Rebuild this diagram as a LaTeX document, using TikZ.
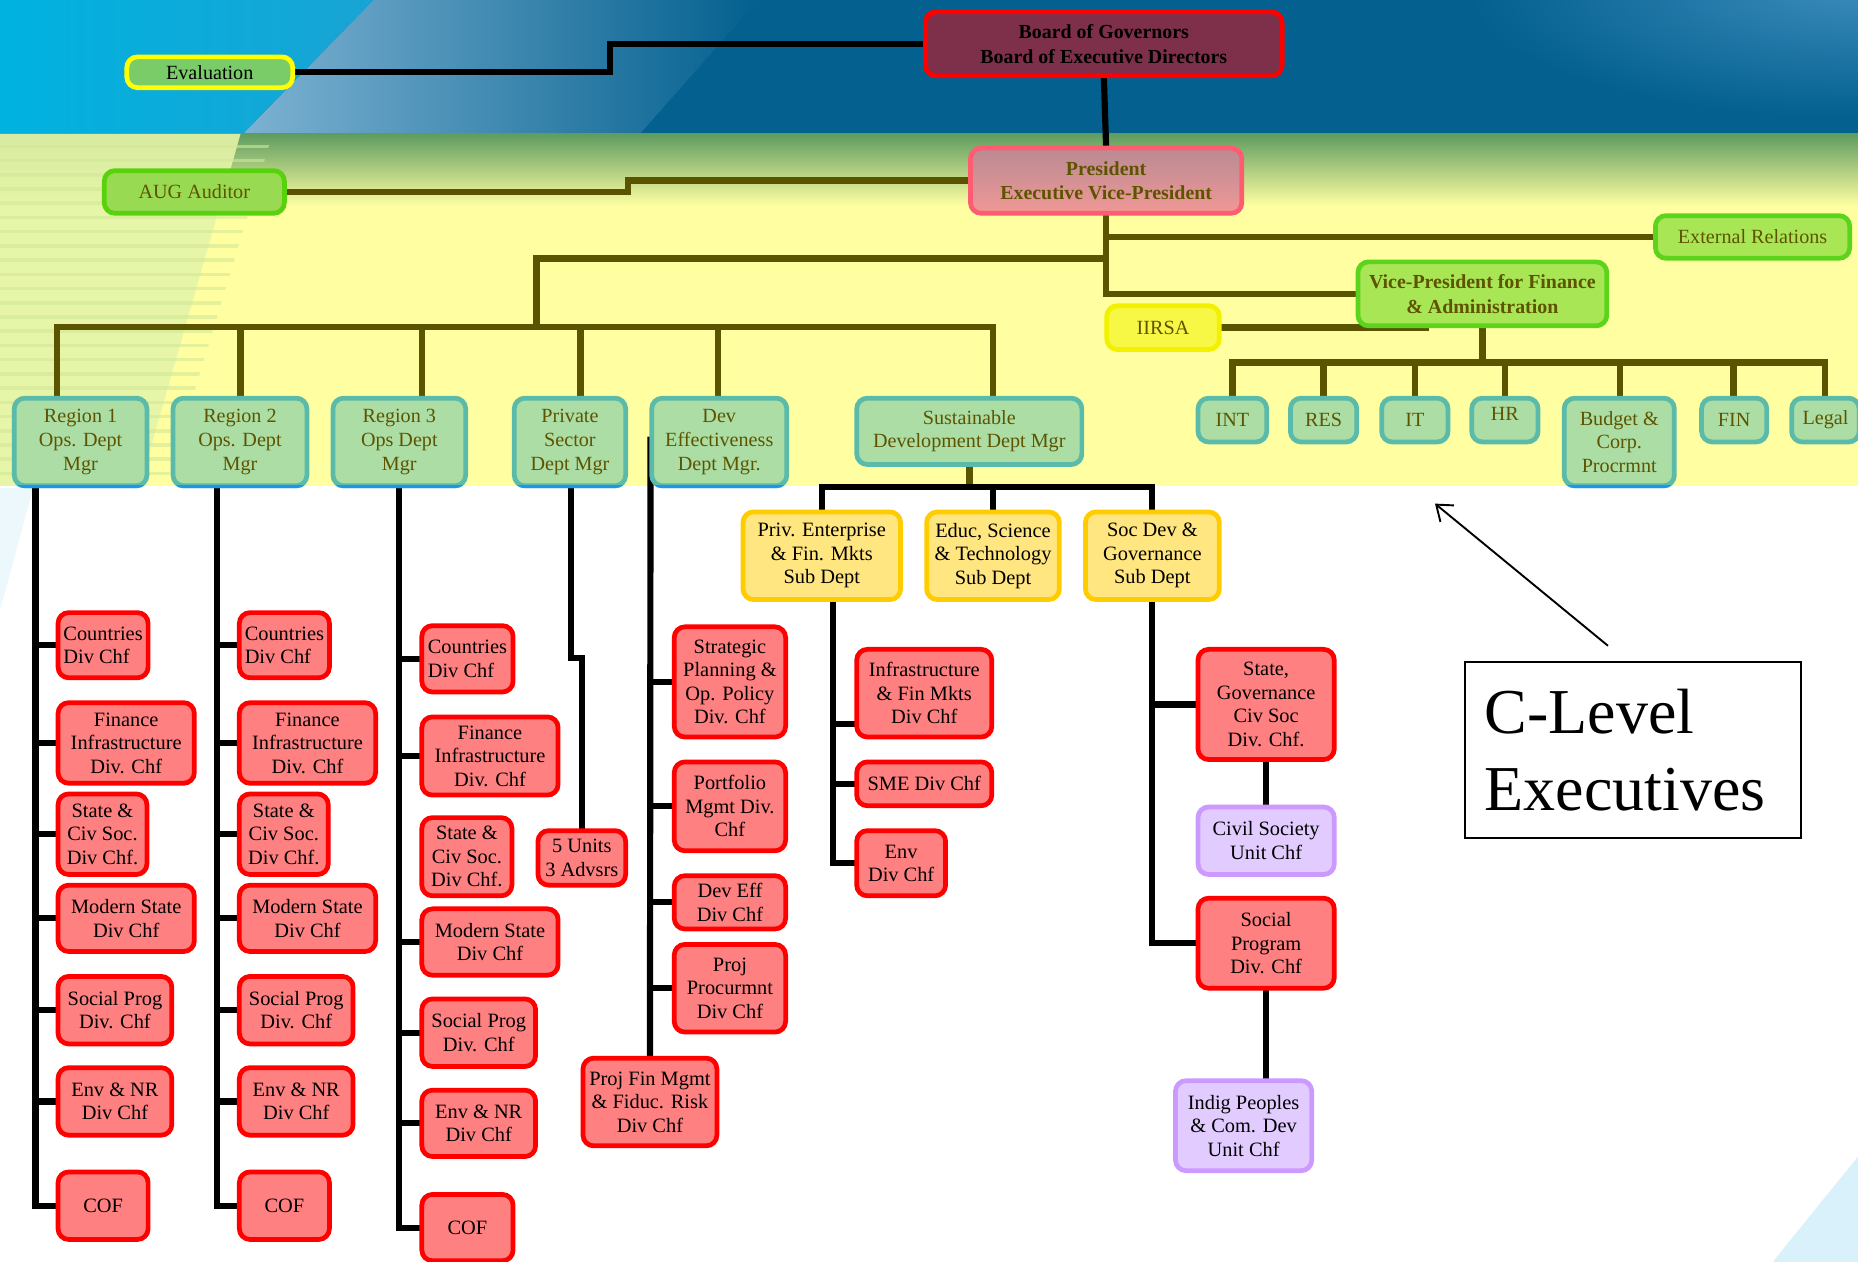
\documentclass[tikz,border=0pt]{standalone}
\usepackage{fontspec}
\setmainfont{Liberation Serif}
\usetikzlibrary{arrows.meta}
\pgfdeclarelayer{bg}
\pgfdeclarelayer{lines}
\pgfsetlayers{bg,lines,main}

\definecolor{lnol}{HTML}{5A5300}
\definecolor{txol}{HTML}{5E5400}
\definecolor{redf}{HTML}{FF8080}
\definecolor{redb}{HTML}{FF0000}
\definecolor{yelf}{HTML}{FFE680}
\definecolor{yelb}{HTML}{FFCC00}
\definecolor{purf}{HTML}{E2CCFF}
\definecolor{purb}{HTML}{CC99FF}
\definecolor{teaf}{HTML}{ABDDA4}
\definecolor{teab}{HTML}{5BBBAA}
\definecolor{blueedge}{HTML}{1E96F0}
\definecolor{boardf}{HTML}{7E2F4A}
\definecolor{evalf}{HTML}{7ACC68}
\definecolor{evalb}{HTML}{FFFF00}
\definecolor{augf}{HTML}{98DA52}
\definecolor{augb}{HTML}{58D20C}
\definecolor{extf}{HTML}{A8E655}
\definecolor{extb}{HTML}{5CD41C}
\definecolor{iirf}{HTML}{F7F745}
\definecolor{iirb}{HTML}{F2F200}
\definecolor{presb}{HTML}{FF5C72}
\definecolor{presT}{HTML}{BA8A93}
\definecolor{presB}{HTML}{F09896}
\definecolor{topdark}{HTML}{03608F}
\definecolor{cyanL}{HTML}{00B2E0}
\definecolor{cyanR}{HTML}{18A4D4}
\definecolor{streakc}{HTML}{7DB2D2}
\definecolor{toplight}{HTML}{3A8BBB}
\definecolor{yelbg}{HTML}{FFFFA2}
\definecolor{grnbg}{HTML}{5F9C60}
\definecolor{palebg}{HTML}{E4F4A8}
\definecolor{pstreak}{HTML}{D2E996}
\definecolor{lblue}{HTML}{D8F1FB}

\tikzset{
  base/.style={rounded corners=4.5pt, line width=2pt, inner sep=0pt, outer sep=0pt, align=center},
  up/.style={base, font=\fontsize{8.5}{10}\selectfont, text=txol},
  upb/.style={base, font=\fontsize{8.4}{10.5}\selectfont\bfseries, text=txol},
  tealbox/.style={up, draw=teab, fill=teaf},
  lo/.style={base, font=\fontsize{8.6}{9.9}\selectfont, text=black},
  redbox/.style={lo, draw=redb, fill=redf},
  subbox/.style={lo, draw=yelb, fill=yelf},
  purbox/.style={lo, draw=purb, fill=purf},
  blk/.style={line width=2.6pt, draw=black, line cap=rect},
  olv/.style={line width=2.8pt, draw=lnol, line cap=rect},
}

% #1 style, #2 name, #3 x1, #4 y1, #5 x2, #6 y2, #7 text
\newcommand{\obox}[7]{%
  \pgfmathsetmacro\oboxw{(#5-#3)*0.5-2}%
  \pgfmathsetmacro\oboxh{(#6-#4)*0.5-2}%
  \node[#1, minimum width=\oboxw pt, minimum height=\oboxh pt] (#2) at ({(#3+#5)/2},{(#4+#6)/2}) {#7};}

\begin{document}
\begin{tikzpicture}[x=0.5pt,y=-0.5pt]
\useasboundingbox (0,0) rectangle (1568,1065);

% ---------------- background ----------------
\begin{pgfonlayer}{bg}
\fill[white] (0,0) rectangle (1568,1065);
% top blue band
\fill[topdark] (0,0) rectangle (1568,113);
\begin{scope}
  \clip (0,0) rectangle (1568,113);
  \shade[inner color=toplight, outer color=topdark] (1568,-10) ellipse (330 and 110);
\end{scope}
\shade[left color=streakc, right color=topdark] (315,0) -- (640,0) -- (540,113) -- (205,113) -- cycle;
\shade[left color=cyanL, right color=cyanR] (0,0) -- (315,0) -- (205,113) -- (0,113) -- cycle;
% yellow band
\fill[yelbg] (0,113) rectangle (1568,410);
\shade[top color=grnbg, bottom color=yelbg] (0,113) rectangle (1568,174);
\fill[palebg, opacity=0.9] (0,113) -- (203,113) -- (118,410) -- (0,410) -- cycle;
\begin{scope}
  \clip (0,113) -- (230,113) -- (140,410) -- (0,410) -- cycle;
  \foreach \yy in {122,134,...,400} \fill[pstreak, opacity=0.6] (0,\yy) rectangle (260,\yy+3);
\end{scope}
% light blue corners
\fill[lblue, opacity=0.45] (0,412) -- (28,412) -- (0,515) -- cycle;
\fill[lblue] (1568,976) -- (1568,1065) -- (1496,1065) -- cycle;
\end{pgfonlayer}

% ---------------- upper nodes ----------------
\obox{upb, draw=redb, fill=boardf, text=black}{board}{779}{8}{1084}{66}{Board of Governors\\Board of Executive Directors}
\obox{up, draw=evalb, fill=evalf, text=black}{eval}{105}{46}{249}{76}{Evaluation}
\obox{upb, draw=presb, top color=presT, bottom color=presB}{pres}{817}{123}{1050}{182}{President\\Executive Vice-President}
\obox{up, draw=augb, fill=augf}{aug}{86}{142}{242}{182}{AUG Auditor}
\obox{up, draw=extb, fill=extf}{ext}{1395}{180}{1563}{220}{External Relations}
\obox{upb, draw=extb, fill=extf}{vpf}{1144}{219}{1358}{277}{Vice-President for Finance\\\& Administration}
\obox{up, draw=iirb, fill=iirf}{iirsa}{932}{256}{1031}{297}{IIRSA}

\obox{tealbox}{r1}{10}{334}{126}{412}{Region 1\\Ops. Dept\\Mgr}
\obox{tealbox}{r2}{144}{334}{261}{412}{Region 2\\Ops. Dept\\Mgr}
\obox{tealbox}{r3}{279}{334}{395}{412}{Region 3\\Ops Dept\\Mgr}
\obox{tealbox}{ps}{432}{334}{530}{412}{Private\\Sector\\Dept Mgr}
\obox{tealbox}{de}{548}{334}{666}{412}{Dev\\Effectiveness\\Dept Mgr.}
\obox{tealbox}{sd}{721}{334}{915}{394}{Sustainable\\Development Dept Mgr}
\obox{tealbox}{uint}{1009}{334}{1071}{375}{INT}
\obox{tealbox}{ures}{1087}{334}{1147}{375}{RES}
\obox{tealbox}{uit}{1164}{334}{1224}{375}{IT}
\obox{tealbox}{uhr}{1240}{334}{1300}{375}{\raisebox{2.5pt}[\height][\depth]{HR}}
\obox{tealbox}{bud}{1318}{334}{1415}{412}{Budget \&\\Corp.\\Procrmnt}
\obox{tealbox}{ufin}{1434}{334}{1493}{375}{FIN}
\obox{tealbox}{ulegal}{1510}{334}{1571}{375}{Legal}

% ---------------- region 1 ----------------
\obox{redbox,align=left}{ra1}{47}{515}{127}{574}{Countries\\Div Chf}
\obox{redbox}{rb1}{47}{591}{166}{663}{Finance\\Infrastructure\\Div. Chf}
\obox{redbox}{rc1}{47}{668}{126}{740}{State \&\\Civ Soc.\\Div Chf.}
\obox{redbox}{rd1}{47}{745}{166}{805}{Modern State\\Div Chf}
\obox{redbox}{re1}{47}{822}{147}{883}{Social Prog\\Div. Chf}
\obox{redbox}{rf1}{47}{899}{147}{960}{Env \& NR\\Div Chf}
\obox{redbox}{rg1}{47}{987}{127}{1048}{COF}
% ---------------- region 2 ----------------
\obox{redbox,align=left}{ra2}{200}{515}{280}{574}{Countries\\Div Chf}
\obox{redbox}{rb2}{200}{591}{319}{663}{Finance\\Infrastructure\\Div. Chf}
\obox{redbox}{rc2}{200}{668}{279}{740}{State \&\\Civ Soc.\\Div Chf.}
\obox{redbox}{rd2}{200}{745}{319}{805}{Modern State\\Div Chf}
\obox{redbox}{re2}{200}{822}{300}{883}{Social Prog\\Div. Chf}
\obox{redbox}{rf2}{200}{899}{300}{960}{Env \& NR\\Div Chf}
\obox{redbox}{rg2}{200}{987}{280}{1048}{COF}
% ---------------- region 3 ----------------
\obox{redbox,align=left}{ra3}{354}{526}{435}{586}{Countries\\Div Chf}
\obox{redbox}{rb3}{354}{603}{473}{673}{Finance\\Infrastructure\\Div. Chf}
\obox{redbox}{rc3}{354}{688}{434}{758}{State \&\\Civ Soc.\\Div Chf.}
\obox{redbox}{rd3}{354}{765}{473}{825}{Modern State\\Div Chf}
\obox{redbox}{re3}{354}{841}{454}{902}{Social Prog\\Div. Chf}
\obox{redbox}{rf3}{354}{918}{454}{978}{Env \& NR\\Div Chf}
\obox{redbox}{rg3}{354}{1006}{435}{1066}{COF}
% ---------------- private sector / dev eff ----------------
\obox{redbox}{fu}{452}{699}{530}{749}{5 Units\\3 Advsrs}
\obox{redbox}{sp}{567}{527}{665}{624}{Strategic\\Planning \&\\Op. Policy\\Div. Chf}
\obox{redbox}{pm}{567}{641}{665}{720}{Portfolio\\Mgmt Div.\\Chf}
\obox{redbox}{dv}{567}{737}{665}{786}{Dev Eff\\Div Chf}
\obox{redbox}{pp}{567}{795}{665}{873}{Proj\\Procurmnt\\Div Chf}
\obox{redbox}{pf}{490}{891}{607}{969}{Proj Fin Mgmt\\\& Fiduc. Risk\\Div Chf}
% ---------------- sustainable development ----------------
\obox{subbox}{pe}{625}{430}{762}{508}{Priv. Enterprise\\\& Fin. Mkts\\Sub Dept}
\obox{subbox}{ed}{780}{430}{896}{508}{Educ, Science\\\& Technology\\Sub Dept}
\obox{subbox}{sg}{914}{430}{1031}{508}{Soc Dev \&\\Governance\\Sub Dept}
\obox{redbox}{ifm}{721}{546}{839}{624}{Infrastructure\\\& Fin Mkts\\Div Chf}
\obox{redbox}{sme}{721}{641}{839}{682}{SME Div Chf}
\obox{redbox}{envc}{721}{699}{800}{758}{Env\\Div Chf}
\obox{redbox}{st}{1009}{546}{1128}{643}{State,\\Governance\\Civ Soc\\Div. Chf.}
\obox{purbox}{cs}{1009}{679}{1128}{740}{Civil Society\\Unit Chf}
\obox{redbox}{so}{1009}{756}{1128}{836}{Social\\Program\\Div. Chf}
\obox{purbox}{ip}{990}{910}{1109}{990}{Indig Peoples\\\& Com. Dev\\Unit Chf}

% ---------------- C-level label ----------------
\node[draw=black, line width=0.8pt, fill=white, minimum width=142pt, minimum height=74pt,
      text width=125pt, align=left, inner sep=0pt, outer sep=0pt,
      font=\fontsize{27}{32.5}\selectfont] (clevel) at (1378,633) {C-Level\\Executives};
\coordinate (atail) at (1357,545);
\coordinate (ahead) at (1211,425);
\draw[line width=0.8pt, -{Straight Barb[length=6pt,width=9pt]}] (atail) -- (ahead);

% blue bottom edges of teal boxes below the yellow band
\begin{scope}
  \clip (0,410) rectangle (1568,430);
  \foreach \n in {r1,r2,r3,ps,de,bud}
    \draw[blueedge, line width=2pt, rounded corners=4.5pt] (\n.south west) rectangle (\n.north east);
\end{scope}

% ---------------- connectors ----------------
\begin{pgfonlayer}{lines}
\draw[blk] (eval.east) -- (515,0 |- eval.east) |- (board.west);
\draw[blk] (board.south) -- (pres.north);
\draw[olv] (aug.east) -- (530,0 |- aug.east) |- (pres.west);
\draw[olv] (pres.south) |- (vpf.west);
\draw[olv] (pres.south |- ext.west) -- (ext.west);
\draw[olv] (pres.south |- 0,218) -| (453,276);
\draw[olv] (48,276) -- (838,276);
\draw[olv] (48,276) -- (48,0 |- r1.north);
\draw[olv] (203,276) -- (203,0 |- r2.north);
\draw[olv] (356,276) -- (356,0 |- r3.north);
\draw[olv] (490,276) -- (490,0 |- ps.north);
\draw[olv] (606,276) -- (606,0 |- de.north);
\draw[olv] (838,276) -- (838,0 |- sd.north);
\draw[olv] (iirsa.east) -- (1203,0 |- iirsa.east);
\draw[olv] (vpf.south) -- (vpf.south |- 0,306);
\draw[olv] (1040,306) -- (1540,306);
\foreach \xx/\n in {1040/uint,1117/ures,1194/uit,1270/uhr,1367/bud,1463/ufin,1540/ulegal}
  \draw[olv] (\xx,306) -- (\xx,0 |- \n.north);

% regions
\foreach \c in {ra1,rb1,rc1,rd1,re1,rf1,rg1}
  \draw[blk] (30,0 |- r1.south) |- (\c.west);
\foreach \c in {ra2,rb2,rc2,rd2,re2,rf2,rg2}
  \draw[blk] (183,0 |- r2.south) |- (\c.west);
\draw[blk] (337,0 |- r3.south) -- (337,0 |- rc3.west);
\foreach \c in {ra3,rb3,rd3,re3,rf3,rg3}
  \draw[blk] (337,0 |- r3.south) |- (\c.west);
% private sector
\draw[blk] (482,0 |- ps.south) -- (482,555) -| (fu.north);
% dev effectiveness
\coordinate (devtop) at (549,371);
\draw[blk] (devtop) -- (pf.north);
\foreach \c in {sp,pm,dv,pp}
  \draw[blk] (549,0 |- \c.west) -- (\c.west);
% sustainable development
\draw[olv] (sd.south) -- (sd.south |- 0,411);
\draw[blk] (pe.north) -- (pe.north |- 0,411) -| (sg.north);
\draw[blk] (ed.north) -- (ed.north |- 0,411);
\draw[blk] (703,0 |- pe.south) |- (ifm.west |- 0,611);
\draw[blk] (703,0 |- pe.south) |- (sme.west);
\draw[blk] (703,0 |- pe.south) |- (envc.west);
\draw[blk] (sg.south) |- (st.west);
\draw[blk] (sg.south) |- (so.west);
\draw[blk] (st.south) -- (cs.north);
\draw[blk] (so.south) -- (so.south |- ip.north);
\end{pgfonlayer}
\end{tikzpicture}
\end{document}
